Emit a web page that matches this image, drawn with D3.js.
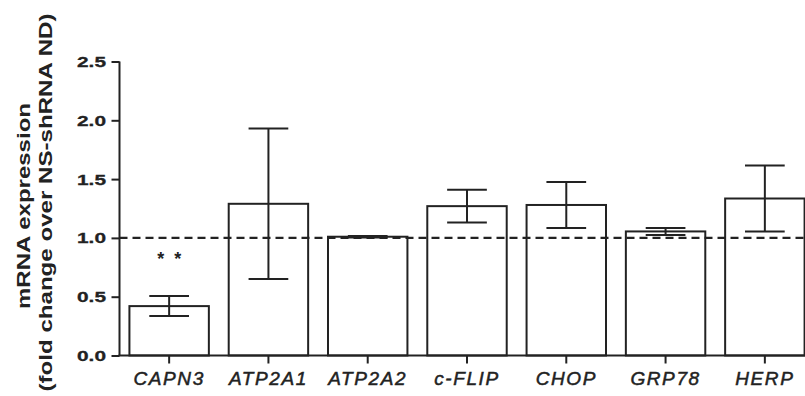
<!DOCTYPE html>
<html>
<head>
<meta charset="utf-8">
<script src="https://cdn.jsdelivr.net/npm/d3@7"></script>
<style>
  body { margin: 0; background: #fff; }
  text { font-family: "Liberation Sans", Arial, sans-serif; fill: #222; }
</style>
</head>
<body>
<div id="chart"></div>
<script>
var categories = ['CAPN3', 'ATP2A1', 'ATP2A2', 'c-FLIP', 'CHOP', 'GRP78', 'HERP'];
var means = [0.42, 1.29, 1.01, 1.27, 1.28, 1.055, 1.335];
var errors = [0.085, 0.64, 0.006, 0.14, 0.195, 0.03, 0.28];
var yTicks = [0.0, 0.5, 1.0, 1.5, 2.0, 2.5];
var refValue = 1.0;
var stars = [{cat: 'CAPN3', label: '**'}];

var width = 805, height = 396;
var marginLeft = 119.5, plotTop = 61.5, plotBottom = 355.5;
var ink = '#222';

var svg = d3.select('#chart')
	.append('svg')
	.attr('width', width)
	.attr('height', height);

var x = d3.scaleBand()
	.domain(categories)
	.range([marginLeft, marginLeft + 695])
	.paddingInner(0.2)
	.paddingOuter(0.1);

var y = d3.scaleLinear()
	.domain([0, 2.5])
	.range([plotBottom, plotTop]);

var data = categories.map(function(c, i){
	return {cat: c, mean: means[i], err: errors[i]};
});

// bars
svg.append('g').selectAll('rect')
	.data(data)
	.enter()
	.append('rect')
	.attr('x', function(d){ return x(d.cat); })
	.attr('y', function(d){ return y(d.mean); })
	.attr('width', x.bandwidth())
	.attr('height', function(d){ return y(0) - y(d.mean); })
	.attr('fill', '#fff')
	.attr('stroke', ink)
	.attr('stroke-width', 2);

// reference line
svg.append('line')
	.attr('x1', marginLeft)
	.attr('x2', width)
	.attr('y1', y(refValue))
	.attr('y2', y(refValue))
	.attr('stroke', ink)
	.attr('stroke-width', 2.2)
	.attr('stroke-dasharray', '8,5');

// error bars
var capHalf = x.bandwidth() / 4;
var eb = svg.append('g').selectAll('g')
	.data(data)
	.enter()
	.append('g')
	.attr('stroke', ink)
	.attr('stroke-width', 2);
eb.append('line')
	.attr('x1', function(d){ return x(d.cat) + x.bandwidth() / 2; })
	.attr('x2', function(d){ return x(d.cat) + x.bandwidth() / 2; })
	.attr('y1', function(d){ return y(d.mean - d.err); })
	.attr('y2', function(d){ return y(d.mean + d.err); });
eb.append('line')
	.attr('x1', function(d){ return x(d.cat) + x.bandwidth() / 2 - capHalf; })
	.attr('x2', function(d){ return x(d.cat) + x.bandwidth() / 2 + capHalf; })
	.attr('y1', function(d){ return y(d.mean + d.err); })
	.attr('y2', function(d){ return y(d.mean + d.err); });
eb.append('line')
	.attr('x1', function(d){ return x(d.cat) + x.bandwidth() / 2 - capHalf; })
	.attr('x2', function(d){ return x(d.cat) + x.bandwidth() / 2 + capHalf; })
	.attr('y1', function(d){ return y(d.mean - d.err); })
	.attr('y2', function(d){ return y(d.mean - d.err); });

// axes
var yAxis = d3.axisLeft(y)
	.tickValues(yTicks)
	.tickFormat(d3.format('.1f'))
	.tickSize(8)
	.tickPadding(5.5);
var gy = svg.append('g')
	.attr('transform', 'translate(' + marginLeft + ',0)')
	.call(yAxis);
gy.select('.domain').attr('stroke', ink).attr('stroke-width', 2).attr('d', 'M0,' + plotTop + 'V' + plotBottom);
gy.selectAll('.tick line').attr('stroke', ink).attr('stroke-width', 2);
gy.selectAll('.tick text')
	.attr('font-size', 15.5)
	.attr('font-weight', 'bold')
	.attr('textLength', 29)
	.attr('lengthAdjust', 'spacingAndGlyphs')
	.attr('font-family', '"Liberation Sans", Arial, sans-serif')
	.attr('fill', ink)
	.attr('stroke', ink)
	.attr('stroke-width', 0.3);

var xAxis = d3.axisBottom(x).tickSize(8).tickPadding(8);
var gx = svg.append('g')
	.attr('transform', 'translate(0,' + plotBottom + ')')
	.call(xAxis);
gx.select('.domain').attr('stroke', ink).attr('stroke-width', 2).attr('d', 'M' + (marginLeft - 1) + ',0H' + width);
gx.selectAll('.tick line').attr('stroke', ink).attr('stroke-width', 2);
gx.selectAll('.tick text')
	.attr('font-size', 19)
	.attr('font-style', 'italic')
	.attr('letter-spacing', 1.6)
	.attr('font-family', '"Liberation Sans", Arial, sans-serif')
	.attr('fill', ink)
	.attr('stroke', ink)
	.attr('stroke-width', 0.5);

// significance stars
svg.selectAll('.star')
	.data(stars)
	.enter()
	.append('text')
	.attr('class', 'star')
	.attr('x', function(d){ return x(d.cat) + x.bandwidth() / 2 + 5; })
	.attr('y', 265)
	.attr('text-anchor', 'middle')
	.attr('font-size', 18)
	.attr('font-weight', 'bold')
	.attr('letter-spacing', 10)
	.text(function(d){ return d.label; });

// y title
var title = svg.append('text')
	.attr('transform', 'rotate(-90)')
	.attr('text-anchor', 'middle')
	.attr('font-size', 18)
	.attr('font-weight', 'bold');
title.append('tspan')
	.attr('x', -206)
	.attr('y', 30)
	.attr('textLength', 206)
	.attr('lengthAdjust', 'spacingAndGlyphs')
	.text('mRNA expression');
title.append('tspan')
	.attr('x', -202.5)
	.attr('y', 52)
	.attr('textLength', 378)
	.attr('lengthAdjust', 'spacingAndGlyphs')
	.text('(fold change over NS-shRNA ND)');
</script>
</body>
</html>
